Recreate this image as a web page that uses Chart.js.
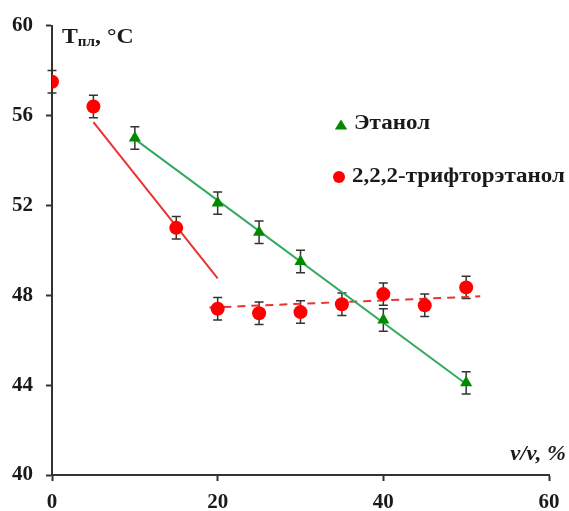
<!DOCTYPE html>
<html><head><meta charset="utf-8">
<script src="https://cdn.jsdelivr.net/npm/chart.js@4/dist/chart.umd.min.js"></script>
<style>html,body{margin:0;padding:0;background:#fff;}canvas{display:block;}</style>
</head><body>
<canvas id="c" width="569" height="511"></canvas>
<script>
// Data
const xEthanol = [10, 20, 25, 30, 40, 50];
const yEthanol = [55.0, 52.1, 50.8, 49.5, 46.9, 44.1];
const errEthanol = [0.5, 0.5, 0.5, 0.5, 0.5, 0.5];

const xTFE = [0, 5, 15, 20, 25, 30, 35, 40, 45, 50];
const yTFE = [57.5, 56.4, 51.0, 47.4, 47.2, 47.25, 47.6, 48.05, 47.55, 48.35];
const errTFE = [0.5, 0.5, 0.5, 0.5, 0.5, 0.5, 0.5, 0.5, 0.5, 0.5];

const fitEthanolX = [10, 50];
const fitEthanolY = [54.95, 44.05];
const fitTFE1X = [5, 20];
const fitTFE1Y = [55.7, 48.75];
const fitTFE2X = [19, 51.7];
const fitTFE2Y = [47.45, 47.95];

const xTicks = [0, 20, 40, 60];
const yTicks = [40, 44, 48, 52, 56, 60];

const labelEthanol = 'Этанол';
const labelTFE = '2,2,2-трифторэтанол';

const pts = (xs, ys) => xs.map((x, i) => ({x: x, y: ys[i]}));
const FONT = '"Liberation Serif", "Times New Roman", serif';

const errorBars = {
  id: 'errorBars',
  beforeDatasetsDraw(chart) {
    const ctx = chart.ctx;
    const xs = chart.scales.x, ys = chart.scales.y;
    chart.data.datasets.forEach(ds => {
      if (!ds.err) return;
      ctx.save();
      ctx.strokeStyle = '#333';
      ctx.lineWidth = 1.5;
      ds.data.forEach((p, i) => {
        const px = xs.getPixelForValue(p.x);
        const y1 = ys.getPixelForValue(p.y + ds.err[i]);
        const y2 = ys.getPixelForValue(p.y - ds.err[i]);
        ctx.beginPath();
        ctx.moveTo(px, y1); ctx.lineTo(px, y2);
        ctx.moveTo(px - 4.5, y1); ctx.lineTo(px + 4.5, y1);
        ctx.moveTo(px - 4.5, y2); ctx.lineTo(px + 4.5, y2);
        ctx.stroke();
      });
      ctx.restore();
    });
  }
};

function stretchText(ctx, text, x, y, sx) {
  ctx.save();
  ctx.translate(x, y);
  ctx.scale(sx, 1);
  ctx.fillText(text, 0, 0);
  const w = ctx.measureText(text).width * sx;
  ctx.restore();
  return w;
}

const annotations = {
  id: 'annotations',
  afterDraw(chart) {
    const ctx = chart.ctx;
    ctx.save();
    ctx.fillStyle = '#1a1a1a';
    ctx.textBaseline = 'alphabetic';
    ctx.textAlign = 'left';
    // Y title: T_пл, °C
    const sx = 1.08;
    let x = 62, y = 43;
    ctx.font = 'bold 22px ' + FONT;
    x += stretchText(ctx, 'T', x, y, sx);
    ctx.font = 'bold 14px ' + FONT;
    x += stretchText(ctx, 'пл', x, y + 3, sx);
    ctx.font = 'bold 22px ' + FONT;
    stretchText(ctx, ', °C', x, y, sx);
    // X title
    ctx.font = 'italic bold 21px ' + FONT;
    const tw = ctx.measureText('v/v, %').width * 1.08;
    stretchText(ctx, 'v/v, %', 566 - tw, 460, 1.08);
    ctx.restore();

    // Legend
    ctx.save();
    chart.data.datasets.filter(d => d.legend).forEach(d => {
      const lx = d.legend[0], ly = d.legend[1];
      ctx.fillStyle = d.backgroundColor;
      ctx.beginPath();
      if (d.pointStyle === 'triangle') {
        const r = 6.5;
        ctx.moveTo(lx, ly - r);
        ctx.lineTo(lx + r * 0.95, ly + r * 0.55);
        ctx.lineTo(lx - r * 0.95, ly + r * 0.55);
        ctx.closePath();
      } else {
        ctx.arc(lx, ly, 6, 0, Math.PI * 2);
      }
      ctx.fill();
      ctx.fillStyle = '#1a1a1a';
      ctx.font = 'bold 20px ' + FONT;
      ctx.textBaseline = 'middle';
      ctx.textAlign = 'left';
      stretchText(ctx, d.label, lx + 13, d.legend[2], 1.15);
    });
    ctx.restore();
  }
};

new Chart(document.getElementById('c'), {
  type: 'scatter',
  data: {
    datasets: [
      {label: labelEthanol, data: pts(xEthanol, yEthanol), err: errEthanol, legend: [341, 126, 124],
       pointStyle: 'triangle', pointRadius: 7, backgroundColor: '#008a00', borderColor: '#008a00',
       borderWidth: 0, order: 0},
      {label: labelTFE, data: pts(xTFE, yTFE), err: errTFE, legend: [339, 177, 177],
       pointStyle: 'circle', pointRadius: 7, backgroundColor: '#ff0000', borderColor: '#ff0000',
       borderWidth: 0, order: 0},
      {type: 'line', label: 'fitE', data: pts(fitEthanolX, fitEthanolY), borderColor: '#33aa60',
       borderWidth: 2, pointRadius: 0, fill: false, order: 1},
      {type: 'line', label: 'fitT1', data: pts(fitTFE1X, fitTFE1Y), borderColor: '#e8332f',
       borderWidth: 2, pointRadius: 0, fill: false, order: 1},
      {type: 'line', label: 'fitT2', data: pts(fitTFE2X, fitTFE2Y), borderColor: '#e8332f',
       borderWidth: 2, borderDash: [8, 6], pointRadius: 0, fill: false, order: 1}
    ]
  },
  options: {
    responsive: false,
    animation: false,
    layout: {padding: {top: 25, right: 20, left: 0, bottom: 0}},
    plugins: {legend: {display: false}, tooltip: {enabled: false}, title: {display: false}},
    scales: {
      x: {
        type: 'linear', min: 0, max: 60,
        afterBuildTicks: s => { s.ticks = xTicks.map(v => ({value: v})); },
        afterFit: s => { s.height = 36; },
        grid: {drawOnChartArea: false, drawTicks: true, tickLength: 6, tickColor: '#333', tickWidth: 2},
        border: {display: true, color: '#333', width: 2},
        ticks: {color: '#1a1a1a', padding: 9, font: {family: FONT, size: 21, weight: 'bold'}, maxRotation: 0}
      },
      y: {
        type: 'linear', min: 40, max: 60,
        afterBuildTicks: s => { s.ticks = yTicks.map(v => ({value: v})); },
        afterFit: s => { s.width = 52; },
        grid: {drawOnChartArea: false, drawTicks: true, tickLength: 6, tickColor: '#333', tickWidth: 2},
        border: {display: true, color: '#333', width: 2},
        ticks: {color: '#1a1a1a', padding: 13, font: {family: FONT, size: 21, weight: 'bold'}}
      }
    }
  },
  plugins: [errorBars, annotations]
});
</script>
</body></html>
